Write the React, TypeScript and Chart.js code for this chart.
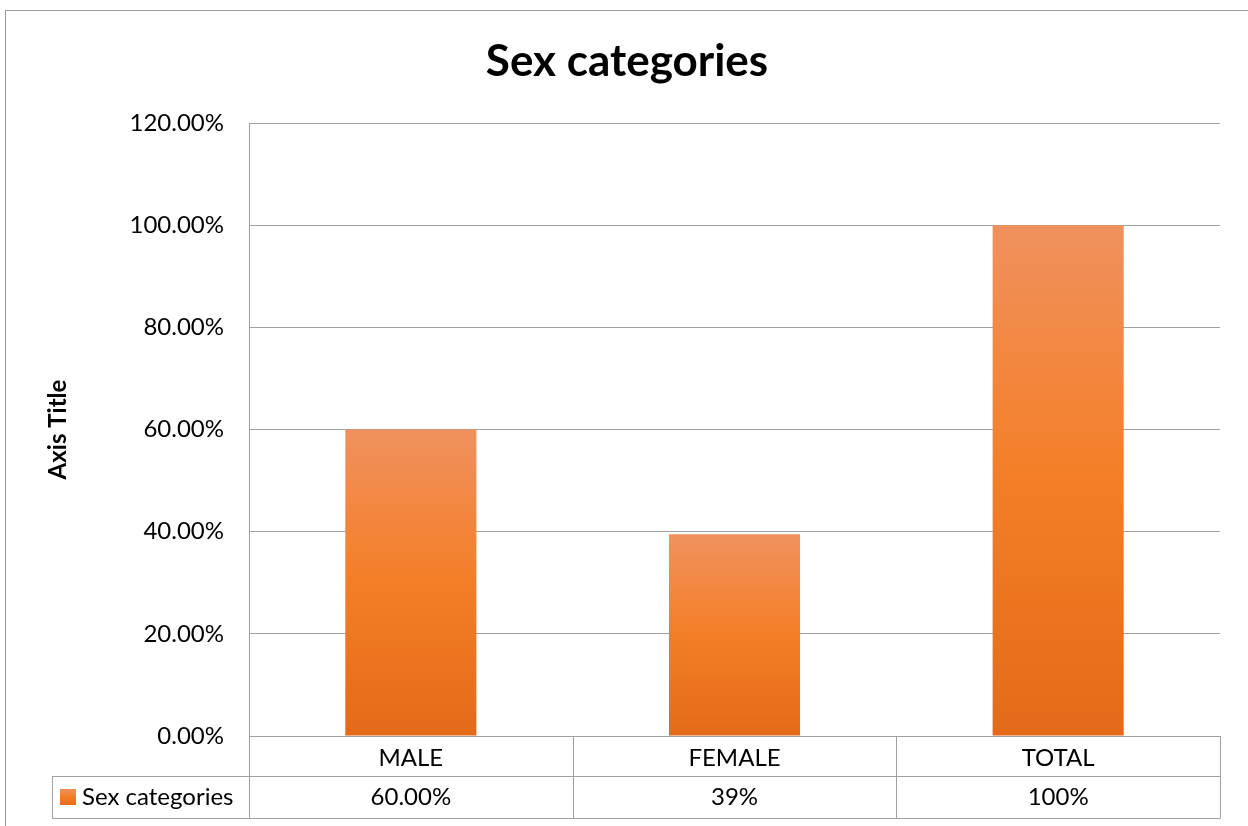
import React, { useEffect, useRef } from "react";
import { Chart, registerables } from "chart.js";

Chart.register(...registerables);

const TITLE = "Sex categories";
const Y_AXIS_TITLE = "Axis Title";
const SERIES_NAME = "Sex categories";
const categories = ["MALE", "FEMALE", "TOTAL"];
const values = [0.6, 0.395, 1.0];
const tableLabels = ["60.00%", "39%", "100%"];
const yTicks = [0, 0.2, 0.4, 0.6, 0.8, 1.0, 1.2];

const FONT = "Lato, 'Noto Sans', sans-serif";
const GRID = "#a0a0a0";

function barGradient(ctx: CanvasRenderingContext2D, top: number, bottom: number) {
  const g = ctx.createLinearGradient(0, top, 0, bottom);
  g.addColorStop(0, "#F0915E");
  g.addColorStop(0.5, "#F47E26");
  g.addColorStop(1, "#E46A19");
  return g;
}

const tablePlugin = {
  id: "excelTable",
  afterDraw(chart: any) {
    const { ctx, chartArea } = chart;
    const xs = chart.scales.x;
    const n = categories.length;
    const bounds: number[] = [];
    const half = (xs.getPixelForValue(1) - xs.getPixelForValue(0)) / 2;
    for (let i = 0; i < n; i++) bounds.push(xs.getPixelForValue(i) - half);
    bounds.push(xs.getPixelForValue(n - 1) + half);
    const r0 = chartArea.bottom;
    const r1 = r0 + 40;
    const r2 = r0 + 82;
    const legLeft = 52;

    ctx.save();
    // outer chart border
    ctx.strokeStyle = "#9a9a9a";
    ctx.lineWidth = 1;
    ctx.beginPath();
    ctx.moveTo(5.5, chart.height);
    ctx.lineTo(5.5, 10.5);
    ctx.lineTo(chart.width, 10.5);
    ctx.stroke();

    // table lines
    ctx.strokeStyle = GRID;
    ctx.beginPath();
    ctx.moveTo(legLeft, r1 + 0.5);
    ctx.lineTo(bounds[n], r1 + 0.5);
    ctx.moveTo(legLeft, r2 + 0.5);
    ctx.lineTo(bounds[n], r2 + 0.5);
    for (let i = 0; i <= n; i++) {
      const x = Math.round(bounds[i]) + 0.5;
      ctx.moveTo(x, r0);
      ctx.lineTo(x, r2 + 0.5);
    }
    ctx.moveTo(legLeft + 0.5, r1);
    ctx.lineTo(legLeft + 0.5, r2 + 0.5);
    ctx.stroke();

    // legend key
    const ky = (r1 + r2) / 2;
    ctx.fillStyle = barGradient(ctx, ky - 8, ky + 8);
    ctx.fillRect(60, ky - 8, 16, 16);
    ctx.fillStyle = "#000";
    ctx.font = `24px ${FONT}`;
    ctx.textBaseline = "middle";
    ctx.textAlign = "left";
    ctx.fillText(SERIES_NAME, 82, ky);

    // values row
    ctx.textAlign = "center";
    for (let i = 0; i < n; i++) {
      ctx.fillText(tableLabels[i], xs.getPixelForValue(i), ky);
    }

    // title
    ctx.font = `bold 44px ${FONT}`;
    ctx.fillText(TITLE, 627, 62);

    // y axis title
    ctx.save();
    ctx.translate(58, (chartArea.top + chartArea.bottom) / 2);
    ctx.rotate(-Math.PI / 2);
    ctx.font = `bold 24px ${FONT}`;
    ctx.fillText(Y_AXIS_TITLE, 0, 0);
    ctx.restore();
    ctx.restore();
  },
};

export default function App() {
  const ref = useRef<HTMLCanvasElement | null>(null);
  useEffect(() => {
    if (!ref.current) return;
    const chart = new Chart(ref.current, {
      type: "bar",
      data: {
        labels: categories,
        datasets: [
          {
            label: SERIES_NAME,
            data: values,
            backgroundColor: (c: any) => {
              const ch = c.chart;
              const ys = ch.scales?.y;
              if (!ch.chartArea || !ys || c.dataIndex === undefined) return "#F47E26";
              const v = values[c.dataIndex];
              return barGradient(ch.ctx, ys.getPixelForValue(v), ys.getPixelForValue(0));
            },
            borderWidth: 0,
            barPercentage: 0.405,
            categoryPercentage: 1,
          },
        ],
      },
      options: {
        responsive: false,
        animation: false,
        devicePixelRatio: 1,
        layout: { padding: { top: 123, right: 28, bottom: 0, left: 0 } },
        plugins: {
          legend: { display: false },
          title: { display: false },
          tooltip: { enabled: false },
        },
        scales: {
          x: {
            grid: { display: false, drawTicks: false },
            border: { display: true, color: GRID },
            ticks: { color: "#000", font: { family: FONT, size: 24 }, padding: 8 },
            afterFit: (s: any) => {
              s.height = 90;
            },
          },
          y: {
            min: 0,
            max: 1.2,
            afterBuildTicks: (s: any) => {
              s.ticks = yTicks.map((v) => ({ value: v }));
            },
            grid: { color: GRID, drawTicks: false },
            border: { display: true, color: GRID },
            ticks: {
              color: "#000",
              font: { family: FONT, size: 24 },
              padding: 25,
              callback: (v: any) => (Number(v) * 100).toFixed(2) + "%",
            },
            afterFit: (s: any) => {
              s.width = 249;
            },
          },
        },
      },
      plugins: [tablePlugin],
    });
    return () => chart.destroy();
  }, []);
  return (
    <div style={{ position: "fixed", left: 0, top: 0, width: 1248, height: 826, background: "#fff" }}>
      <canvas ref={ref} width={1248} height={826} style={{ display: "block" }} />
    </div>
  );
}
